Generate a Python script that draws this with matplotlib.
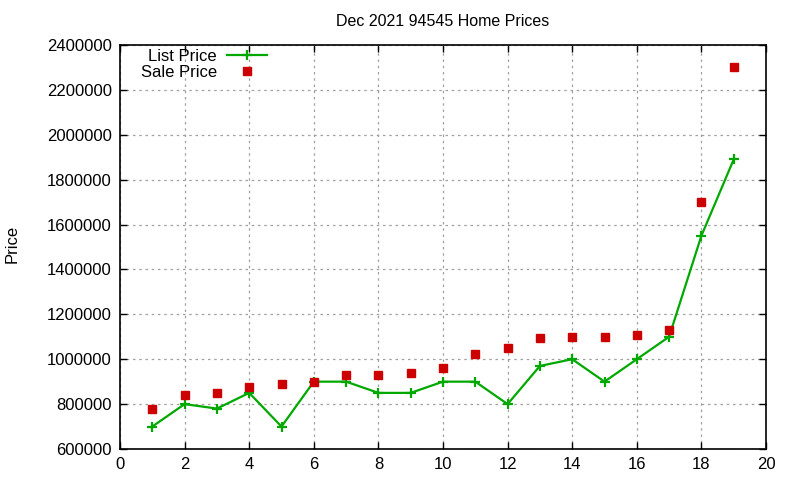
import matplotlib
matplotlib.use("Agg")
import matplotlib.pyplot as plt

x = list(range(1, 20))
list_price = [700000, 800000, 780000, 850000, 700000, 900000, 900000, 850000, 850000, 900000,
              900000, 800000, 970000, 1000000, 900000, 1000000, 1100000, 1550000, 1890000]
sale_price = [780000, 840000, 850000, 875000, 890000, 899000, 930000, 930000, 938000, 960000,
              1023000, 1050000, 1095000, 1099000, 1099000, 1108000, 1130000, 1700000, 2301000]
xticks = list(range(0, 21, 2))
yticks = list(range(600000, 2400001, 200000))

plt.rcParams['font.family'] = ['Liberation Sans', 'DejaVu Sans']
plt.rcParams['font.size'] = 12

fig = plt.figure(figsize=(8, 4.8), dpi=100)
ax = fig.add_axes([0.15, 0.0646, 0.8075, 0.8417])

ax.plot(x, list_price, color='#00a800', lw=1.6, marker='+', ms=7.5, mew=1.6, label='List Price')
ax.plot(x, sale_price, ls='none', color='#cc0000', marker='s', ms=6, label='Sale Price')

ax.set_xlim(0, 20)
ax.set_ylim(600000, 2400000)
ax.set_xticks(xticks)
ax.set_yticks(yticks)
ax.set_yticklabels([str(v) for v in yticks])
ax.tick_params(direction='in', top=True, right=True, length=5, width=1, pad=6, labelsize=12)
ax.grid(True, ls=(0, (2, 3)), color='#a0a0a0', lw=0.9)
for s in ax.spines.values():
    s.set_linewidth(1.2)

ax.set_title('Dec 2021 94545 Home Prices', fontsize=11.5, pad=14)
ax.set_ylabel('Price', fontsize=12)
ax.yaxis.set_label_coords(-0.155, 0.507)

leg = ax.legend(loc='upper left', bbox_to_anchor=(0.017, 1.015), markerfirst=False, frameon=False,
                fontsize=12, handlelength=2.4, labelspacing=0.05, handletextpad=0.6, borderaxespad=0.2)
for t in leg.get_texts():
    t.set_ha('right')
    t.set_position((0, 0))

fig.savefig('out.png', dpi=100)
